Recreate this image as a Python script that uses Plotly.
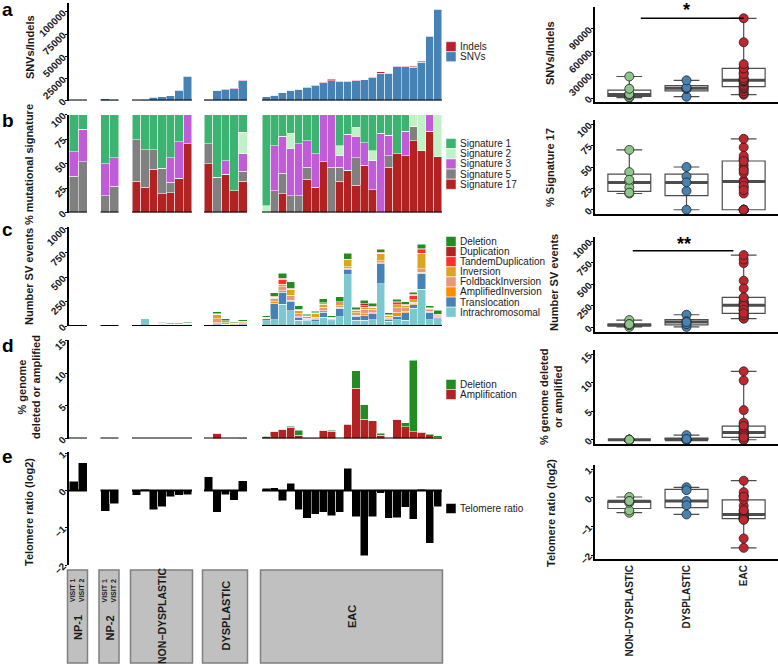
import numpy as np
import plotly.graph_objects as go

W, H = 778, 664
FONT = "Liberation Sans, Arial, sans-serif"

# ---------------- data ----------------
group_names = ["NP-1", "NP-2", "NON\u2212DYSPLASTIC", "DYSPLASTIC", "EAC"]
group_sizes = [2, 2, 7, 5, 22]
box_groups = ["NON\u2212DYSPLASTIC", "DYSPLASTIC", "EAC"]
box_group_index = [2, 3, 4]
box_colors = ["#8FC68A", "#4682B4", "#C0262D"]

# panel a
snvs = [350, 300,
        1700, 1300,
        480, 1400, 3900, 4400, 5100, 11500, 27500,
        1650, 11400, 12250, 13300, 22500,
        4200, 5700, 8650, 11600, 12750, 14550, 16800, 20150, 22400, 22000, 22000,
        22350, 23150, 25600, 30500, 30600, 38300, 38200, 37800, 43300, 71700, 102800]
indels = [30, 20,
          120, 100,
          20, 100, 100, 100, 100, 500, 500,
          50, 400, 350, 400, 500,
          100, 100, 150, 200, 200, 250, 300, 350, 1800, 300, 300,
          350, 350, 500, 2000, 700, 600, 700, 700, 800, 900, 1000]

# panel b (% mutational signature)
sig1 = [38, 15, 50, 44,
        26, 36, 36, 55, 44, 28, 0,
        30, 64, 47, 78, 18,
        93, 32, 22, 19, 30, 27, 40, 0, 0, 32, 20, 13, 29, 37, 19, 21, 40, 17, 0, 0, 0, 0]
sig2 = [0, 0, 0, 0,
        0, 0, 0, 0, 0, 0, 0,
        0, 0, 0, 0, 22,
        7, 0, 0, 16, 0, 0, 0, 0, 0, 10, 0, 9, 0, 10, 0, 0, 0, 0, 12, 37, 0, 43]
sig3 = [25, 33, 33, 29,
        0, 0, 0, 0, 25, 37, 30,
        0, 0, 14, 0, 18,
        0, 46, 38, 48, 53, 27, 34, 48, 54, 12, 37, 22, 23, 30, 81, 21, 0, 25, 0, 0, 17, 0]
sig5 = [37, 52, 17, 27,
        42, 38, 20, 26, 11, 0, 0,
        20, 36, 0, 0, 10,
        0, 22, 21, 17, 17, 12, 0, 0, 46, 14, 0, 28, 0, 0, 0, 12, 0, 0, 15, 0, 0, 0]
sig17 = [0, 0, 0, 0,
         32, 26, 44, 19, 20, 35, 70,
         50, 0, 39, 22, 32,
         0, 0, 19, 0, 0, 34, 26, 52, 0, 32, 43, 28, 48, 23, 0, 46, 60, 58, 73, 63, 83, 57]

# panel c (SV events)
sv_intra = [0, 0, 4, 3,
            5, 75, 2, 20, 15, 15, 18,
            3, 15, 10, 10, 15,
            55, 62, 223, 157, 60, 45, 45, 90, 55, 96, 524, 60, 60, 65, 432, 50, 65, 60, 182, 380, 65, 75]
sv_trans = [0, 0, 0, 0,
            3, 5, 0, 8, 5, 5, 8,
            0, 10, 8, 5, 10,
            20, 171, 123, 93, 25, 15, 20, 50, 15, 86, 52, 40, 50, 60, 205, 15, 35, 75, 34, 161, 75, 15]
sv_ampinv = [0, 0, 0, 0,
             0, 0, 0, 0, 0, 0, 0,
             0, 10, 0, 0, 0,
             3, 17, 17, 16, 12, 8, 10, 15, 5, 10, 17, 10, 15, 10, 14, 10, 40, 15, 20, 11, 10, 5]
sv_fold = [0, 0, 0, 0,
           0, 0, 0, 3, 0, 0, 0,
           0, 40, 15, 0, 10,
           5, 35, 41, 52, 30, 10, 15, 40, 5, 15, 15, 25, 45, 35, 20, 15, 50, 40, 10, 36, 15, 10]
sv_inv = [0, 0, 0, 0,
          0, 0, 0, 0, 0, 0, 4,
          0, 45, 20, 15, 15,
          5, 8, 24, 52, 35, 20, 40, 30, 5, 33, 70, 20, 25, 25, 76, 20, 30, 25, 25, 159, 15, 10]
sv_tandem = [0, 0, 0, 0,
             0, 0, 0, 0, 0, 0, 0,
             0, 0, 0, 0, 0,
             0, 0, 52, 5, 0, 0, 0, 5, 0, 0, 0, 5, 15, 0, 0, 0, 20, 0, 45, 34, 0, 0]
sv_dup = [0, 0, 0, 0,
          0, 0, 0, 0, 0, 0, 0,
          0, 5, 0, 0, 0,
          2, 15, 12, 12, 8, 5, 6, 10, 3, 8, 10, 8, 20, 8, 12, 5, 10, 10, 8, 10, 5, 5]
sv_del = [0, 0, 6, 5,
          7, 5, 3, 7, 8, 8, 8,
          2, 22, 19, 8, 12,
          13, 34, 50, 65, 36, 20, 18, 41, 15, 53, 59, 24, 37, 30, 29, 22, 27, 25, 25, 49, 21, 44]

# panel d (% genome deleted or amplified)
cn_amp = [0, 0, 0, 0,
          0, 0, 0, 0, 0, 0, 0,
          0, 0.8, 0, 0, 0.03,
          0.25, 1.1, 1.4, 1.7, 0.5, 0.12, 0.12, 1.25, 1.15, 0, 2.2, 7.7, 3.0, 2.7, 0.5, 0, 2.95, 1.8, 1.05, 1.0, 0.6, 0.2]
cn_del = [0, 0, 0, 0,
          0, 0, 0, 0, 0, 0, 0,
          0, 0, 0, 0, 0.1,
          0.13, 0.05, 0.06, 0.2, 0.8, 0.03, 0.03, 0.05, 0.1, 0, 0.1, 2.7, 2.2, 0.05, 0.3, 0, 0.05, 0.6, 10.95, 0.03, 0.1, 0.2]

# panel e (telomere ratio, log2)
telomere = [0.25, 0.75, -0.55, -0.35,
            -0.12, 0.03, -0.52, -0.44, -0.17, -0.12, -0.11,
            0.37, -0.58, -0.11, -0.26, 0.27,
            0.06, 0.08, -0.28, 0.2, -0.52, -0.75, -0.63, -0.58, -0.68, -0.58, 0.6, -0.7, -1.75, -0.7,
            -0.07, -0.75, -0.73, -0.45, -0.77, 0.04, -1.42, -0.43]

# tick labels
ticks_a = [0, 25000, 50000, 75000, 100000]
ticks_b = [0, 25, 50, 75, 100]
ticks_c = [0, 250, 500, 750, 1000]
ticks_d = [0, 5, 10, 15]
ticks_e = [-2, -1, 0, 1]
ticks_a_right = [0, 30000, 60000, 90000]

# ---------------- layout constants (pixels) ----------------
grp_x0 = [69, 100.5, 132, 204, 262]
grp_bw = [9.0, 9.0, 8.57, 8.6, 8.18]
AXIS_X = 68

xs, ws = [], []
for g, n in enumerate(group_sizes):
    for i in range(n):
        xs.append(grp_x0[g] + (i + 0.5) * grp_bw[g])
        ws.append(grp_bw[g])
offsets = np.concatenate([[0], np.cumsum(group_sizes)])


def gslice(arr, g):
    return list(np.asarray(arr, dtype=float)[offsets[g]:offsets[g + 1]])


# (top px, bottom px, range, ticks)
left_specs = [
    (3, 100.5, [0, 110000], ticks_a),
    (114.5, 212.5, [0, 100], ticks_b),
    (226.7, 326, [0, 1020], ticks_c),
    (340, 438.5, [0, 15.15], ticks_d),
    (451.5, 565, [-2, 1.05], ticks_e),
]
right_specs = [
    (7, 102, [-5200, 118500], ticks_a_right),
    (120, 214, [-5, 105], ticks_b),
    (237, 331.7, [-50, 1050], ticks_c),
    (350, 444, [-0.75, 15.75], ticks_d),
    (465, 559.3, [-2.15, 1.15], ticks_e),
]

fig = go.Figure()
layout = dict(width=W, height=H, margin=dict(l=0, r=0, t=0, b=0, autoexpand=False), autosize=False,
              paper_bgcolor="white", plot_bgcolor="rgba(0,0,0,0)", barmode="stack",
              showlegend=False, font=dict(family=FONT, color="#1a1a1a"))


def sfx(i):
    return "" if i == 1 else str(i)


tickfont = dict(family=FONT, size=10, color="#1a1a1a", weight="bold")
for i, (top, bot, rng, tv) in enumerate(left_specs, start=1):
    layout[f"xaxis{sfx(i)}"] = dict(domain=[0, 1], range=[0, W], visible=False, anchor=f"y{sfx(i)}",
                                   automargin=False)
    layout[f"yaxis{sfx(i)}"] = dict(domain=[1 - bot / H, 1 - top / H], range=rng, anchor="free",
                                   position=AXIS_X / W, showline=True, linecolor="black", linewidth=1.5,
                                   ticks="outside", ticklen=2, tickwidth=1, tickcolor="black",
                                   tickvals=tv, tickformat="d", tickangle=-45, tickfont=tickfont,
                                   showgrid=False, zeroline=False, automargin=False)
for j, (top, bot, rng, tv) in enumerate(right_specs):
    i = 6 + j
    layout[f"xaxis{i}"] = dict(domain=[595 / W, 1], range=[-0.6, 2.6], anchor=f"y{i}", showline=True,
                               linecolor="black", linewidth=1.5, tickvals=[0, 1, 2], ticktext=box_groups,
                               showticklabels=(j == 4), tickangle=-90, tickfont=tickfont,
                               ticks="", showgrid=False, zeroline=False, automargin=False)
    layout[f"yaxis{i}"] = dict(domain=[1 - bot / H, 1 - top / H], range=rng, anchor=f"x{i}",
                               showline=True, linecolor="black", linewidth=1.5, ticks="outside",
                               ticklen=2, tickcolor="black", tickvals=tv, tickformat="d", tickangle=-45,
                               tickfont=tickfont, showgrid=False, zeroline=False, automargin=False)


def add_bars(panel, series, colors):
    for vals, col in zip(series, colors):
        fig.add_trace(go.Bar(x=xs, y=vals, width=ws, marker=dict(color=col, line=dict(color="white", width=0.5)),
                             xaxis=f"x{sfx(panel)}", yaxis=f"y{sfx(panel)}", hoverinfo="skip"))


col_a = {"Indels": "#BE1E2D", "SNVs": "#4682B4"}
col_b = {"Signature 1": "#3CB371", "Signature 2": "#C1F2C6", "Signature 3": "#C15CD8",
         "Signature 5": "#808080", "Signature 17": "#B22222"}
col_c = {"Deletion": "#228B22", "Duplication": "#B22222", "TandemDuplication": "#FF3030",
         "Inversion": "#DAA520", "FoldbackInversion": "#E9967A", "AmplifiedInversion": "#FF8C00",
         "Translocation": "#4682B4", "Intrachromosomal": "#7CC8CF"}
col_d = {"Deletion": "#228B22", "Amplification": "#B22222"}
col_e = {"Telomere ratio": "#000000"}

add_bars(1, [snvs, indels], [col_a["SNVs"], col_a["Indels"]])
add_bars(2, [sig17, sig5, sig3, sig2, sig1],
         [col_b["Signature 17"], col_b["Signature 5"], col_b["Signature 3"], col_b["Signature 2"], col_b["Signature 1"]])
add_bars(3, [sv_intra, sv_trans, sv_ampinv, sv_fold, sv_inv, sv_tandem, sv_dup, sv_del],
         [col_c[k] for k in ["Intrachromosomal", "Translocation", "AmplifiedInversion", "FoldbackInversion",
                             "Inversion", "TandemDuplication", "Duplication", "Deletion"]])
add_bars(4, [cn_amp, cn_del], [col_d["Amplification"], col_d["Deletion"]])
add_bars(5, [telomere], [col_e["Telomere ratio"]])

# right-hand box plots derived from the left-hand series
total_a = list(np.asarray(snvs) + np.asarray(indels))
total_c = list(np.sum([sv_intra, sv_trans, sv_ampinv, sv_fold, sv_inv, sv_tandem, sv_dup, sv_del], axis=0))
total_d = list(np.asarray(cn_amp) + np.asarray(cn_del))
right_series = [total_a, sig17, total_c, total_d, telomere]

for j, series in enumerate(right_series):
    i = 6 + j
    for k, g in enumerate(box_group_index):
        vals = gslice(series, g)
        fig.add_trace(go.Box(y=vals, x=[k] * len(vals), width=0.75, fillcolor="white",
                             line=dict(color="#4D4D4D", width=1.2), whiskerwidth=0.6, boxpoints=False,
                             xaxis=f"x{i}", yaxis=f"y{i}", hoverinfo="skip"))
        med = float(np.median(vals))
        fig.add_trace(go.Scatter(x=[k - 0.375, k + 0.375], y=[med, med], mode="lines",
                                 line=dict(color="#4D4D4D", width=3), xaxis=f"x{i}", yaxis=f"y{i}",
                                 hoverinfo="skip"))
        fig.add_trace(go.Scatter(x=[k] * len(vals), y=vals, mode="markers",
                                 marker=dict(size=9, color=box_colors[k], line=dict(color="#222222", width=0.8)),
                                 xaxis=f"x{i}", yaxis=f"y{i}", hoverinfo="skip"))

shapes = []
annotations = []


def ann(**kw):
    kw.setdefault("xanchor", "center")
    kw.setdefault("yanchor", "middle")
    kw.setdefault("showarrow", False)
    annotations.append(kw)


# group baselines on the left panels
for p in range(1, 6):
    for g, n in enumerate(group_sizes):
        shapes.append(dict(type="line", xref=f"x{sfx(p)}", yref=f"y{sfx(p)}", x0=grp_x0[g],
                           x1=grp_x0[g] + n * grp_bw[g], y0=0, y1=0, line=dict(color="black", width=2)))

# group boxes below
for g, n in enumerate(group_sizes):
    shapes.append(dict(type="rect", xref="x5", yref="paper", x0=grp_x0[g] - 1.5, x1=grp_x0[g] + n * grp_bw[g] + 0.5,
                       y0=1 - 663 / H, y1=1 - 570 / H, fillcolor="#C0C0C0", line=dict(color="#7F7F7F", width=1.5),
                       layer="below"))
    cx = grp_x0[g] + n * grp_bw[g] / 2
    if g < 2:
        ann(x=cx, y=1 - 628 / H, xref="x5", yref="paper", text=f"<b>{group_names[g]}</b>",
            textangle=-90, font=dict(size=11, color="#1a1a1a"))
        for v in range(n):
            ann(x=grp_x0[g] + (v + 0.5) * grp_bw[g] - 1.5, y=1 - 591 / H, xref="x5", yref="paper",
                text=f"<b>VISIT {v + 1}</b>", textangle=-90, font=dict(size=7, color="#1a1a1a"))
    else:
        ann(x=cx, y=1 - 616 / H, xref="x5", yref="paper", text=f"<b>{group_names[g]}</b>",
            textangle=-90, font=dict(size=10.5 if g == 2 else 11, color="#1a1a1a"))

# significance bars
shapes.append(dict(type="line", xref="x6", yref="y6", x0=0.2, x1=2.0, y0=103800, y1=103800,
                   line=dict(color="black", width=1.5)))
ann(x=1.0, y=114000, xref="x6", yref="y6", text="<b>*</b>", font=dict(size=18, color="black"))
shapes.append(dict(type="line", xref="x8", yref="y8", x0=0.06, x1=1.82, y0=891, y1=891,
                   line=dict(color="black", width=1.5)))
ann(x=0.96, y=965, xref="x8", yref="y8", text="<b>**</b>", font=dict(size=18, color="black"))


# manual legends
def legend(items, colors, first_center, spacing=10.2):
    for n, (name, col) in enumerate(zip(items, colors)):
        yc = first_center + n * spacing
        shapes.append(dict(type="rect", xref="paper", yref="paper", x0=446 / W, x1=456 / W,
                           y0=1 - (yc + 5) / H, y1=1 - (yc - 5) / H, fillcolor=col,
                           line=dict(color="white", width=0.5)))
        ann(x=458 / W, y=1 - yc / H, xref="paper", yref="paper", text=name, xanchor="left",
            font=dict(size=10, color="#1a1a1a"))


legend(list(col_a.keys()), list(col_a.values()), 46.7, 10)
legend(list(col_b.keys()), list(col_b.values()), 143.5, 10.2)
legend(list(col_c.keys()), list(col_c.values()), 241.5, 10.1)
legend(list(col_d.keys()), list(col_d.values()), 384.5, 10)
legend(list(col_e.keys()), list(col_e.values()), 508.5, 10)

# axis titles
left_titles = [("SNVs/Indels", 30, 47), ("% mutational signature", 29, 165), ("Number SV events", 29, 277),
               ("% genome<br>deleted or amplified", 29, 387), ("Telomere ratio (log2)", 29, 512)]
right_titles = [("SNVs/Indels", 550, 53), ("% Signature 17", 550, 168), ("Number SV events", 554, 283),
                ("% genome deleted<br>or amplified", 551, 397), ("Telomere ratio (log2)", 551, 513)]
for text, x, y in left_titles + right_titles:
    ann(x=x / W, y=1 - y / H, xref="paper", yref="paper", text=f"<b>{text}</b>",
        textangle=-90, font=dict(size=11, color="#1a1a1a"))

# panel letters
for letter, y in zip("abcde", [10, 120, 229, 345, 456]):
    ann(x=8 / W, y=1 - y / H, xref="paper", yref="paper", text=f"<b>{letter}</b>",
        font=dict(size=19, color="black"))

layout["shapes"] = shapes
layout["annotations"] = annotations
fig.update_layout(**layout)
fig.write_html("out.html", config={"displayModeBar": False},
               post_script="document.body.style.margin='0';document.body.style.padding='0';")
